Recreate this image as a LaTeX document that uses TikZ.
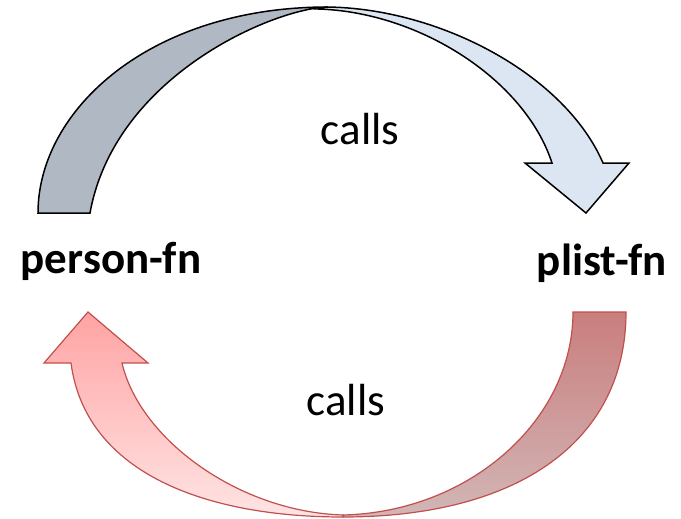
\documentclass[tikz,border=0pt]{standalone}
\usepackage{fontspec}
\setmainfont{Carlito}
\definecolor{backgray}{HTML}{B0B9C3}
\definecolor{frontblue}{HTML}{DCE6F2}
\definecolor{edgered}{HTML}{C0504D}
\definecolor{redtop}{HTML}{FFA3A3}
\definecolor{redbot}{HTML}{FFE4E4}
\definecolor{backtop}{HTML}{CA7E7E}
\definecolor{backbot}{HTML}{D2B6B6}

\begin{document}
\begin{tikzpicture}[x=1pt,y=-1pt,line join=miter,
  fname/.style={font=\fontsize{45}{54}\selectfont\bfseries,anchor=base,inner sep=0pt},
  verb/.style={font=\fontsize{45}{54}\selectfont,anchor=base,inner sep=0pt},
  upperarrow/.style={draw=black,line width=1.5pt},
  lowerarrow/.style={draw=edgered,line width=1.2pt}]
\useasboundingbox (0,0) rectangle (681,519);
% Upper curved arrow: back half first, front half with head over it.
\filldraw[upperarrow,fill=backgray] (38,213) .. controls (38,110) and (150,7) .. (328,7)
  .. controls (275,8) and (115,75) .. (90,213) -- cycle;
\filldraw[upperarrow,fill=frontblue] (326,7) .. controls (440,8) and (565,75) .. (603,163)
  -- (629,163) -- (586,213) -- (525,163) -- (552,163)
  .. controls (525,80) and (420,12) .. (318,9) -- cycle;
% Lower curved arrow: darker back half on the right, head on the left.
\draw[lowerarrow,top color=backtop,bottom color=backbot] (626,312) .. controls (626,440) and (520,517) .. (343,517)
  -- (343,515) .. controls (470,512) and (573,420) .. (573,312) -- cycle;
\draw[lowerarrow,top color=redtop,bottom color=redbot] (343,517) .. controls (200,517) and (85,470) .. (71,363)
  -- (44,363) -- (88,312) -- (148,363) -- (122,363)
  .. controls (140,440) and (240,512) .. (343,515) -- cycle;
% Labels
\node[fname] (person) at (111,273) {person-fn};
\node[fname] (plist) at (602,275) {plist-fn};
\node[verb] (callsTop) at (360,145) {calls};
\node[verb] (callsBot) at (346,415) {calls};
\end{tikzpicture}
\end{document}
